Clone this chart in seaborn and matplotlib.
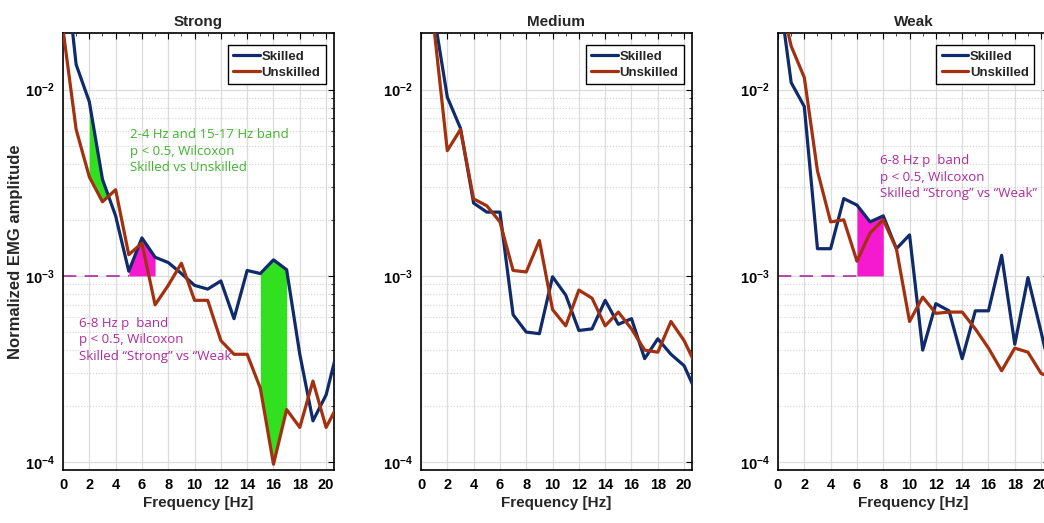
import numpy as np
import pandas as pd
import matplotlib
matplotlib.use("Agg")
import matplotlib.pyplot as plt
from matplotlib.ticker import LogLocator, MultipleLocator, FixedLocator, NullFormatter
import seaborn as sns

# ---------------- data ----------------
freq = list(range(0, 22))

strong_skilled = [0.060, 0.0136, 0.0086, 0.0033, 0.0021, 0.00106, 0.0016, 0.00126,
                  0.00118, 0.00103, 0.00089, 0.00085, 0.00094, 0.00059, 0.00107,
                  0.00103, 0.00122, 0.00108, 0.00038, 0.000167, 0.00023, 0.00044]
strong_unskilled = [0.021, 0.0061, 0.0034, 0.0025, 0.0029, 0.0013, 0.0015, 0.00070,
                    0.00089, 0.00117, 0.00074, 0.00074, 0.00045, 0.00038, 0.00038,
                    0.00025, 0.0000977, 0.000192, 0.000154, 0.000273, 0.000154, 0.00021]

medium_skilled = [0.060, 0.025, 0.0091, 0.0062, 0.00246, 0.0022, 0.0022, 0.00062,
                  0.00050, 0.00049, 0.00099, 0.00079, 0.00051, 0.00052, 0.00074,
                  0.00055, 0.00059, 0.00036, 0.00046, 0.00038, 0.00033, 0.00023]
medium_unskilled = [0.050, 0.021, 0.0047, 0.0061, 0.00259, 0.00238, 0.00195, 0.00107,
                    0.00105, 0.00155, 0.00066, 0.00054, 0.00084, 0.00076, 0.00054,
                    0.00064, 0.00052, 0.00040, 0.00039, 0.00057, 0.00045, 0.00032]

weak_skilled = [0.037, 0.0109, 0.0081, 0.0014, 0.0014, 0.0026, 0.0024, 0.00195,
                0.0021, 0.0014, 0.00166, 0.00040, 0.00071, 0.00065, 0.00036,
                0.00065, 0.00065, 0.00129, 0.00043, 0.00098, 0.00050, 0.00025]
weak_unskilled = [0.035, 0.0171, 0.0116, 0.00366, 0.00195, 0.0020, 0.0012, 0.0017,
                  0.0020, 0.0014, 0.00057, 0.00077, 0.00063, 0.00064, 0.00064,
                  0.00052, 0.00041, 0.00031, 0.00041, 0.00039, 0.00030, 0.00028]

panel_titles = ["Strong", "Medium", "Weak"]
groups = ["Skilled", "Unskilled"]
x_ticks = [0, 2, 4, 6, 8, 10, 12, 14, 16, 18, 20]
y_ticks = [1e-4, 1e-3, 1e-2]
y_tick_labels = [r"$\mathbf{10^{-4}}$", r"$\mathbf{10^{-3}}$", r"$\mathbf{10^{-2}}$"]

green_bands = [(2, 4), (15, 17)]   # Strong panel, Skilled vs Unskilled
pink_band_strong = (5, 7)
pink_band_weak = (6, 8)
ref_level = 1e-3

green_text = "2-4 Hz and 15-17 Hz band\np < 0.5, Wilcoxon\nSkilled vs Unskilled"
pink_text = "6-8 Hz p  band\np < 0.5, Wilcoxon\nSkilled \u201cStrong\u201d vs \u201cWeak"
pink_text_weak = "6-8 Hz p  band\np < 0.5, Wilcoxon\nSkilled \u201cStrong\u201d vs \u201cWeak\u201d"

# ---------------- style ----------------
sns.set_theme(style="white")
plt.rcParams["font.family"] = ["Liberation Sans", "DejaVu Sans"]
plt.rcParams["mathtext.fontset"] = "custom"
plt.rcParams["mathtext.rm"] = "Liberation Sans"
plt.rcParams["mathtext.bf"] = "Liberation Sans:bold"

BLUE = "#0f2b6b"
RED = "#a3300f"
GREEN_FILL = "#33e01f"
GREEN_TXT = "#3fb52c"
PINK_FILL = "#f51ad0"
PINK_TXT = "#b02a9e"
palette = {"Skilled": BLUE, "Unskilled": RED}

W, H = 1044, 523
fig = plt.figure(figsize=(W / 100, H / 100), dpi=100)

def px_axes(left, right, top, bottom):
    return fig.add_axes([left / W, 1 - bottom / H, (right - left) / W, (bottom - top) / H])

axes = [px_axes(63, 334, 33, 470), px_axes(421, 692, 33, 470), px_axes(778, 1049, 33, 470)]

series = [(strong_skilled, strong_unskilled),
          (medium_skilled, medium_unskilled),
          (weak_skilled, weak_unskilled)]

ann_font = ["Open Sans", "DejaVu Sans"]

for i, (ax, title, (sk, un)) in enumerate(zip(axes, panel_titles, series)):
    df = pd.DataFrame({"Frequency": freq * 2,
                       "Amplitude": sk + un,
                       "Group": ["Skilled"] * len(freq) + ["Unskilled"] * len(freq)})
    ax.set_yscale("log")
    ax.set_ylim(9.1e-5, 0.0201)
    ax.set_xlim(0, 20.6)

    fx = np.array(freq, dtype=float)
    sk_a = np.array(sk)
    un_a = np.array(un)

    if i == 0:
        for (a, b) in green_bands:
            xs = np.linspace(a, b, 200)
            ls = np.exp(np.interp(xs, fx, np.log(sk_a)))
            lu = np.exp(np.interp(xs, fx, np.log(un_a)))
            ax.fill_between(xs, lu, ls, where=ls >= lu, color=GREEN_FILL, lw=0, zorder=2)
        a, b = pink_band_strong
        xs = np.linspace(a, b, 200)
        ls = np.exp(np.interp(xs, fx, np.log(sk_a)))
        ax.fill_between(xs, ref_level, ls, color=PINK_FILL, lw=0, zorder=2)
        ax.plot([0, a], [ref_level, ref_level], ls=(0, (8, 5)), color=PINK_TXT, lw=1.2, zorder=2)
        ax.text(130 / W, 1 - 128 / H, green_text, transform=fig.transFigure, color=GREEN_TXT,
                fontsize=9.5, va="top", ha="left", linespacing=1.35, family=ann_font)
        ax.text(79 / W, 1 - 317 / H, pink_text, transform=fig.transFigure, color=PINK_TXT,
                fontsize=9.5, va="top", ha="left", linespacing=1.35, family=ann_font)
    if i == 2:
        a, b = pink_band_weak
        xs = np.linspace(a, b, 200)
        ls = np.exp(np.interp(xs, fx, np.log(sk_a)))
        ax.fill_between(xs, ref_level, ls, color=PINK_FILL, lw=0, zorder=2)
        ax.plot([0, a], [ref_level, ref_level], ls=(0, (8, 5)), color=PINK_TXT, lw=1.2, zorder=2)
        ax.text(880 / W, 1 - 154 / H, pink_text_weak, transform=fig.transFigure, color=PINK_TXT,
                fontsize=9.5, va="top", ha="left", linespacing=1.35, family=ann_font)

    sns.lineplot(data=df, x="Frequency", y="Amplitude", hue="Group", palette=palette,
                 linewidth=2.3, ax=ax, legend=False, zorder=3)

    # ticks and grid
    ax.xaxis.set_major_locator(FixedLocator(x_ticks))
    ax.xaxis.set_minor_locator(MultipleLocator(1))
    ax.yaxis.set_major_locator(FixedLocator(y_ticks))
    ax.set_yticklabels(y_tick_labels)
    ax.yaxis.set_minor_locator(LogLocator(base=10, subs=np.arange(2, 10)))
    ax.yaxis.set_minor_formatter(NullFormatter())
    ax.set_xticklabels([str(t) for t in x_ticks], fontweight="bold")
    ax.tick_params(axis="both", which="major", direction="in", length=4, width=0.8,
                   labelsize=10.5, top=True, right=True, colors="black", pad=6)
    ax.tick_params(axis="both", which="minor", direction="in", length=2, width=0.6,
                   top=True, right=True)
    ax.grid(True, which="major", color="#dcdcdc", lw=0.9, ls="-", zorder=0)
    ax.grid(True, which="minor", axis="y", color="#d4d4d4", lw=0.8, ls=":", zorder=0)
    ax.set_axisbelow(True)
    for sp in ax.spines.values():
        sp.set_visible(True)
        sp.set_color("black")
        sp.set_linewidth(1.2)

    ax.set_title(title, fontsize=11, fontweight="bold", pad=5)
    ax.set_xlabel("Frequency [Hz]", fontsize=11, fontweight="bold", labelpad=3)
    if i == 0:
        ax.set_ylabel("Normalized EMG amplitude", fontsize=12, fontweight="bold", labelpad=1)
    else:
        ax.set_ylabel("")

    handles = [plt.Line2D([], [], color=palette[g], lw=2.3) for g in groups]
    leg = ax.legend(handles, groups, loc="upper right",
                    bbox_to_anchor=(0.97, 0.972) if i < 2 else (0.945, 0.972),
                    frameon=True, fancybox=False, framealpha=1, edgecolor="black",
                    prop={"weight": "bold", "size": 9.5}, handlelength=2.0, handletextpad=0.15,
                    borderpad=0.4, labelspacing=0.3, borderaxespad=0)
    leg.get_frame().set_linewidth(1.0)

fig.savefig("out.png", dpi=100)
